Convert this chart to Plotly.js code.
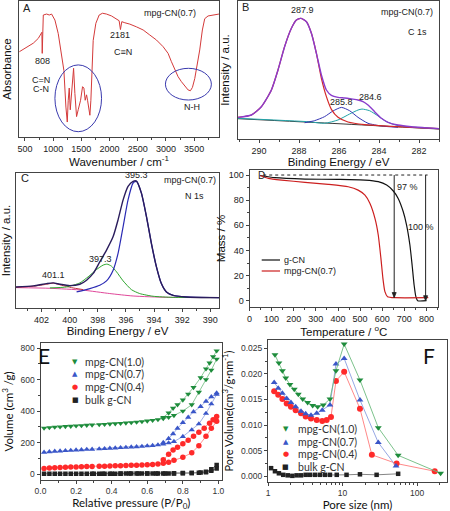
<!DOCTYPE html>
<html><head><meta charset="utf-8">
<script src="https://cdn.plot.ly/plotly-3.0.1.min.js"></script>
<style>html,body{margin:0;padding:0;background:#fff;}#chart{width:450px;height:511px;}</style>
</head><body><div id="chart"></div>
<script>
// ---------- Panel A: FTIR ----------
const aX = [400,530,648,736,777,800,806,812,825,884,931,972,1031,1090,1150,1190,1226,1250,1267,1285,1303,1326,1344,1362,1385,1415,1444,1486,1521,1545,1568,1592,1610,1633,1651,1669,1686,1710,1757,1816,1875,1946,2035,2123,2170,2193,2217,2271,2359,2477,2596,2714,2832,2950,3038,3097,3156,3215,3274,3334,3393,3434,3470,3511,3552,3599,3646,3688,3747,3836,3895,3940];
const aY = [62.7,66,69,72.5,76,77,61.5,82,89.7,90.4,89.7,90.4,86,76,61.5,49,22,11,27,36,20,32,47,50.5,32,15,20,27,37,36,27,31,27,20,16,27,52,71,83.6,89.7,91,90.4,89,87,85.5,79,84.8,84,83,81,78.7,75,71.3,66.4,61.5,55.4,49.3,44.4,40.7,37.5,34.6,34,36.5,43,51.7,64,78.7,87,89,89.7,89.7,90.4];
const aTicks = [500,1000,1500,2000,2500,3000,3500];

// ---------- Panel B: C 1s ----------
const bEnvX = [291.05,290.38,289.88,289.38,289.05,288.72,288.38,288.13,287.90,287.63,287.38,287.13,286.88,286.63,286.38,286.05,285.72,285.38,285.05,284.80,284.55,284.22,283.88,283.55,283.05,282.38,281.72,281.00];
const bEnvY = [15.7,17.4,23.4,35.5,50.0,66.9,80.2,86.2,87.4,85.0,76.6,62.1,46.4,35.5,31.6,30.2,29.7,29.0,28.3,27.1,24.6,19.8,15.0,12.1,10.1,8.9,8.2,7.5];
const bMainX = [291.05,290.38,289.88,289.38,289.05,288.72,288.38,288.13,287.90,287.63,287.38,287.13,286.88,286.63,286.38,286.05,285.55,284.72,283.38,281.00];
const bMainY = [15.7,17.4,23.4,35.5,50.0,66.9,80.2,86.2,87.4,85.0,76.6,62.1,44.0,30.7,21.5,15.7,12.3,10.4,9.2,7.5];
const bP2X = [287.72,287.22,286.72,286.30,285.88,285.47,285.05,284.55,283.88,283.05];
const bP2Y = [11.8,13.3,16.2,20.3,22.9,20.5,15.7,11.4,9.4,8.5];
const bP3X = [291.05,289.0,287.5,286.72,286.05,285.47,285.05,284.85,284.47,284.05,283.63,283.05,282.22,281.00];
const bP3Y = [15.0,13.6,12.5,11.4,13.8,18.1,21.0,21.7,20.5,16.7,12.6,9.7,8.5,7.5];
const bBaseX = [291.05,286.05,281.00];
const bBaseY = [14.7,11.1,7.2];
const bTicks = [290,288,286,284,282];

// ---------- Panel C: N 1s ----------
const cEnvX = [403.82,402.59,401.64,401.17,400.70,399.99,399.28,398.80,398.33,397.86,397.38,396.91,396.56,396.20,395.85,395.49,395.25,394.90,394.54,394.19,393.83,393.48,393.12,392.65,391.70,389.38];
const cEnvY = [15.6,16.4,18.1,18.6,17.6,16.6,17.6,20.6,25.6,34.2,42.9,52.9,65.3,80.1,90.1,93.8,94.0,85.1,67.7,47.9,30.5,18.1,11.9,9.4,8.2,7.7];
const cMainX = [399.51,398.57,397.86,397.38,396.91,396.56,396.20,395.85,395.49,395.25,394.90,394.54,394.19,393.83,393.48,393.12,392.41,389.38];
const cMainY = [11.9,14.4,16.9,20.1,28.0,40.4,60.3,80.1,92.6,93.8,85.1,67.7,47.9,30.5,18.1,11.9,8.9,7.7];
const cP2X = [401.41,400.22,399.28,398.69,398.09,397.62,397.34,397.03,396.67,396.20,395.61,395.02,394.07,392.65,389.38];
const cP2Y = [14.9,15.6,18.6,23.1,28.5,31.8,32.5,31.0,26.8,20.1,13.6,10.7,8.7,7.9,7.7];
const cP3X = [403.82,402.59,401.64,401.17,400.58,399.87,399.04];
const cP3Y = [15.4,16.1,17.6,18.4,16.9,15.1,13.6];
const cBaseX = [403.82,401.41,399.04,397.15,395.49,393.12,389.38];
const cBaseY = [15.1,14.6,13.2,10.7,8.9,7.9,7.7];
const cTicks = [402,400,398,396,394,392,390];

// ---------- Panel D: TGA ----------
const dGX = [47,115,251,401,522,582,620,650,672,695,710,725,735,744,752,760,800];
const dGY = [99.6,97.9,96.8,96.5,96.0,94.7,92.0,87.3,81.4,70.8,60.2,44.3,28.4,12.5,3.2,0,0];
const dMX = [47,85,145,251,356,446,491,522,544,567,582,594,603,612,624,657,808];
const dMY = [99.6,97.4,96.0,94.2,92.6,90.7,88.0,84.0,77.5,65.5,52.3,33.7,17.8,7.2,3.2,2.4,2.4];
const dXTicks = [0,100,200,300,400,500,600,700,800];
const dYTicks = [0,20,40,60,80,100];
const dLoss = [97, 100];          // mass-loss labels (%)
const dLossT = [654, 796];        // temperature where each loss arrow is drawn
const dLossEnd = [2.5, 0];        // residual mass at arrow tip

// ---------- Panel E: N2 isotherms ----------
const eAdsX = [0.02,0.05,0.08,0.11,0.14,0.17,0.20,0.23,0.26,0.29,0.33,0.36,0.39,0.42,0.45,0.48,0.51,0.54,0.57,0.60,0.63,0.66,0.69,0.72,0.75,0.80,0.85,0.89,0.93,0.96,0.99];
const eG_ads = [292,295,298,300,302,304,306,308,310,312,314,316,318,320,322,324,327,330,333,337,341,346,352,360,372,400,440,520,600,660,730];
const eG_desX = [0.99,0.97,0.95,0.93,0.90,0.86,0.83,0.80,0.77,0.745,0.72,0.69];
const eG_des = [782,745,705,668,612,550,508,470,440,418,388,360];
const eB_ads = [138,141,144,146,148,150,152,154,156,157,159,161,163,165,167,169,171,173,175,178,181,185,190,197,206,238,280,318,385,445,505];
const eB_desX = [0.99,0.96,0.93,0.90,0.86,0.83,0.80,0.77,0.745,0.72,0.69];
const eB_des = [515,490,462,428,395,360,327,290,255,225,200];
const eR_ads = [35,38,40,42,43,44,45,46,47,48,49,50,51,52,53,54,55,56,57,59,61,64,68,75,87,106,135,180,240,290,335];
const eR_desX = [0.99,0.97,0.95,0.92,0.89,0.86,0.83,0.80,0.77,0.745,0.72,0.69];
const eR_des = [365,345,322,290,265,240,215,192,170,153,125,90];
const eK_ads = [2,2,2,2,2,2,2,2,2,2,2,2,2,2,2,3,3,3,3,3,3,3,3,4,4,5,6,8,12,20,35];
const eK_desX = [0.99,0.96,0.93,0.90,0.85,0.80,0.75,0.70,0.65,0.60,0.55,0.50,0.45,0.40,0.35,0.30];
const eK_des = [58,30,15,10,7,6,5,4,3,3,3,3,3,2,2,2];
const eXTicks = [0,0.2,0.4,0.6,0.8,1.0];
const eYTicks = [0,200,400,600,800];

// ---------- Panel F: pore size distribution ----------
const fGX = [1.24,1.40,1.56,1.73,1.97,2.25,2.55,2.92,3.40,3.97,4.63,5.51,6.77,8.15,10.5,17.1,30.1,55.6,206];
const fGY = [0.0237,0.0221,0.0206,0.0192,0.0179,0.0170,0.0160,0.0151,0.0144,0.0138,0.0136,0.0139,0.0151,0.0206,0.0258,0.0188,0.0095,0.0041,0.0006];
const fBX = [1.21,1.37,1.56,1.78,2.03,2.35,2.77,3.20,3.77,4.50,5.34,6.77,8.15,10.5,17.1,30.1,52.1];
const fBY = [0.0183,0.0172,0.0162,0.0152,0.0144,0.0136,0.0127,0.0122,0.0119,0.0123,0.0129,0.0139,0.0219,0.0230,0.0149,0.0066,0.0020];
const fRX = [1.21,1.37,1.56,1.78,2.03,2.35,2.77,3.20,3.77,4.50,5.34,6.12,6.99,8.15,10.5,17.1,24.7,53,172];
const fRY = [0.0166,0.0159,0.0151,0.0142,0.0136,0.0129,0.0123,0.0117,0.0113,0.0110,0.0108,0.0110,0.0116,0.0186,0.0204,0.0132,0.0042,0.0025,0.0010];
const fKX = [1.10,1.24,1.40,1.60,1.84,2.12,2.42,2.77,3.20,3.66,4.27,4.97,5.81,6.77,8.35,11.3,17.1,28.6,55.6];
const fKY = [0.0016,0.0010,0.0006,0.0003,0.0002,0.0001,0.0002,0.0002,0.0003,0.0003,0.0003,0.0003,0.0003,0.0003,0.0003,0.0003,0.0004,0.0003,0.0005];
const fXTicks = [1,10,100];
const fYTicks = [0,0.005,0.010,0.015,0.020,0.025];

const seriesNames = ['mpg-CN(1.0)','mpg-CN(0.7)','mpg-CN(0.4)','bulk g-CN'];
const seriesColors = ['#1e8c3c','#3a56c8','#ff2a2a','#222222'];
const seriesLine = ['#6dbb7e','#8a9de0','#ff7a7a','#777777'];
const seriesSymbols = ['triangle-down','triangle-up','circle','square'];
const seriesGlyphs = ['\u25BC','\u25B2','\u25CF','\u25A0'];

// ---------- traces ----------
const T = [];
function line(xa, ya, x, y, color, w){ T.push({type:'scatter', mode:'lines', x:x, y:y, xaxis:xa, yaxis:ya, line:{color:color, width:w||1, shape:'spline', smoothing:0.6}, hoverinfo:'skip', showlegend:false}); }
// A
T.push({type:'scatter', mode:'lines', x:aX, y:aY, xaxis:'x', yaxis:'y', line:{color:'#d43a3a', width:1}, showlegend:false});
// B
line('x2','y2', bBaseX, bBaseY, '#3a3a3a', 1);
line('x2','y2', bP3X, bP3Y, '#22a3a8', 1);
line('x2','y2', bP2X, bP2Y, '#3434b4', 1);
line('x2','y2', bMainX, bMainY, '#d42828', 1.2);
line('x2','y2', bEnvX, bEnvY, '#8a3ccc', 1.4);
// C
line('x3','y3', cBaseX, cBaseY, '#e0489a', 1);
line('x3','y3', cP3X, cP3Y, '#c03040', 1);
line('x3','y3', cP2X, cP2Y, '#2ea62e', 1);
line('x3','y3', cMainX, cMainY, '#2a2ab4', 1.2);
line('x3','y3', cEnvX, cEnvY, '#2a1c5c', 1.4);
// D
T.push({type:'scatter', mode:'lines', x:dGX, y:dGY, xaxis:'x4', yaxis:'y4', line:{color:'#111', width:1.2, shape:'spline', smoothing:0.5}, showlegend:false});
T.push({type:'scatter', mode:'lines', x:dMX, y:dMY, xaxis:'x4', yaxis:'y4', line:{color:'#cc1f1f', width:1.2, shape:'spline', smoothing:0.5}, showlegend:false});
// E
const eAds = [eG_ads, eB_ads, eR_ads, eK_ads];
const eDesX = [eG_desX, eB_desX, eR_desX, eK_desX];
const eDes = [eG_des, eB_des, eR_des, eK_des];
for (let i = 3; i >= 0; i--) {
  T.push({type:'scatter', mode:'lines', x:eAdsX, y:eAds[i], xaxis:'x5', yaxis:'y5', line:{color:seriesLine[i], width:0.8}, showlegend:false});
  T.push({type:'scatter', mode:'lines', x:eDesX[i], y:eDes[i], xaxis:'x5', yaxis:'y5', line:{color:seriesLine[i], width:0.8}, showlegend:false});
  T.push({type:'scatter', mode:'markers', name:seriesNames[i], x:eAdsX.concat(eDesX[i]), y:eAds[i].concat(eDes[i]), xaxis:'x5', yaxis:'y5', marker:{symbol:seriesSymbols[i], size:i===3?4.5:5.5, color:seriesColors[i]}, showlegend:false});
}
// F
const fX = [fGX, fBX, fRX, fKX];
const fY = [fGY, fBY, fRY, fKY];
for (let i = 3; i >= 0; i--) {
  T.push({type:'scatter', mode:'lines+markers', name:seriesNames[i], x:fX[i], y:fY[i], xaxis:'x6', yaxis:'y6', line:{color:seriesLine[i], width:0.9}, marker:{symbol:seriesSymbols[i], size:i===3?4.5:6, color:seriesColors[i]}, showlegend:false});
}

// ---------- axes ----------
const F1 = 'Liberation Sans, Arial, sans-serif';
const F2 = 'Lato, Liberation Sans, sans-serif';
function ax(o){
  return Object.assign({showline:true, linecolor:'#444', linewidth:1, mirror:true, ticks:'outside', ticklen:3, tickwidth:1, tickcolor:'#444',
    tickfont:{family:F1, size:9, color:'#222'}, showgrid:false, zeroline:false, automargin:false, fixedrange:true}, o);
}
function ttl(text, standoff, fam, size){ return {text:text, standoff:standoff, font:{family:fam||F1, size:size||11.5, color:'#111'}}; }
const P = (px) => px/450, Q = (py) => 1 - py/511;

const shapes = [
  {type:'circle', xref:'x', yref:'y', x0:1031, x1:1858, y0:3.9, y1:53, line:{color:'#3a3aae', width:1}},
  {type:'circle', xref:'x', yref:'y', x0:2991, x1:3806, y0:27.2, y1:50.5, line:{color:'#3a3aae', width:1}},
  {type:'line', xref:'x4', yref:'y4', x0:62, x1:805, y0:100, y1:100, line:{color:'#222', width:1, dash:'dot'}},
  {type:'line', xref:'paper', yref:'paper', x0:P(261.7), x1:P(280), y0:Q(260), y1:Q(260), line:{color:'#111', width:1.2}},
  {type:'line', xref:'paper', yref:'paper', x0:P(261.7), x1:P(280), y0:Q(271), y1:Q(271), line:{color:'#cc1f1f', width:1.2}}
];
// mass-loss arrows in panel D: shaft plus small head, positioned from the data arrays
for (let k = 0; k < dLossT.length; k++) {
  shapes.push({type:'line', xref:'x4', yref:'y4', x0:dLossT[k], x1:dLossT[k], y0:100, y1:dLossEnd[k], line:{color:'#222', width:1}});
  shapes.push({type:'path', xref:'x4', yref:'y4', path:'M'+(dLossT[k]-9)+','+(dLossEnd[k]+4)+' L'+dLossT[k]+','+dLossEnd[k]+' L'+(dLossT[k]+9)+','+(dLossEnd[k]+4)+' Z', fillcolor:'#222', line:{color:'#222', width:0.8}});
}

const layout = {
  width:450, height:511, margin:{l:0,r:0,t:0,b:0}, showlegend:false,
  paper_bgcolor:'#fff', plot_bgcolor:'#fff', font:{family:F1, size:9, color:'#222'},
  xaxis: ax({domain:[P(19),P(219)], anchor:'y', range:[394,3941], tickvals:aTicks, minor:{ticks:'outside', ticklen:2, dtick:250, tickcolor:'#444'}, title:ttl('Wavenumber / cm<sup>-1</sup>', 2)}),
  yaxis: ax({domain:[Q(137),Q(1)], anchor:'x', range:[0,100], ticks:'', showticklabels:false, title:ttl('Absorbance', 3)}),
  xaxis2: ax({domain:[P(238),P(439)], anchor:'y2', range:[291.05,281.0], tickvals:bTicks, minor:{ticks:'outside', ticklen:2, dtick:1, tickcolor:'#444'}, title:ttl('Binding Energy / eV', 2)}),
  yaxis2: ax({domain:[Q(139),Q(1)], anchor:'x2', range:[0,100], ticks:'', showticklabels:false, title:ttl('Intensity / a.u.', 4)}),
  xaxis3: ax({domain:[P(16),P(219)], anchor:'y3', range:[403.82,389.38], tickvals:cTicks, minor:{ticks:'outside', ticklen:2, dtick:1, tickcolor:'#444'}, title:ttl('Binding Energy / eV', 2)}),
  yaxis3: ax({domain:[Q(308),Q(173)], anchor:'x3', range:[0,100], ticks:'', showticklabels:false, title:ttl('Intensity / a.u.', 2)}),
  xaxis4: ax({domain:[P(249.5),P(438)], anchor:'y4', range:[0,852], tickvals:dXTicks, minor:{ticks:'outside', ticklen:2, dtick:50, tickcolor:'#444'}, title:ttl('Temperature / <sup>o</sup>C', 2)}),
  yaxis4: ax({domain:[Q(307),Q(170)], anchor:'x4', range:[-5,104], tickvals:dYTicks, minor:{ticks:'outside', ticklen:2, dtick:10, tickcolor:'#444'}, title:ttl('Mass / %', 0)}),
  xaxis5: ax({domain:[P(40.5),P(222)], anchor:'y5', range:[0,1.02], tickvals:eXTicks, tickformat:'.1f', tickfont:{family:F1, size:8.5, color:'#333'}, minor:{ticks:'outside', ticklen:2, dtick:0.1, tickcolor:'#444'}, title:ttl('Relative pressure (P/P<sub>0</sub>)', 6, F2, 11.5)}),
  yaxis5: ax({domain:[Q(480),Q(343)], anchor:'x5', range:[-38,832], tickvals:eYTicks, tickfont:{family:F1, size:8.5, color:'#333'}, minor:{ticks:'outside', ticklen:2, dtick:100, tickcolor:'#444'}, title:ttl('Volume (cm<sup>3</sup> /g)', 13, F2, 11.5)}),
  xaxis6: ax({domain:[P(268),P(447)], anchor:'y6', type:'log', range:[0,2.4], tickvals:fXTicks, ticktext:['1','10','100'], tickfont:{family:F1, size:8.5, color:'#333'}, minor:{ticks:'outside', ticklen:2, tickvals:[2,3,4,5,6,7,8,9,20,30,40,50,60,70,80,90,200], tickcolor:'#444'}, title:ttl('Pore size (nm)', 6, F2, 11.5)}),
  yaxis6: ax({domain:[Q(482),Q(340)], anchor:'x6', range:[-0.0011,0.0266], tickvals:fYTicks, tickformat:'.3f', tickfont:{family:F1, size:8.5, color:'#333'}, minor:{ticks:'outside', ticklen:2, dtick:0.0025, tickcolor:'#444'}, title:ttl('Pore Volume(cm<sup>3</sup>/g\u00B7nm<sup>-1</sup>)', 5, F2, 11)}),
  shapes: shapes,
  annotations: []
};

const A = layout.annotations;
function lab(xr, yr, x, y, text, size, extra){ A.push(Object.assign({xref:xr, yref:yr, x:x, y:y, text:text, showarrow:false, xanchor:'center', yanchor:'middle', font:{family:F1, size:size||9, color:'#222'}}, extra||{})); }
// A labels
lab('x','y', 530, 95, 'A', 11);
lab('x','y', 807, 56, '808');
lab('x','y', 790, 42, 'C=N');
lab('x','y', 785, 35, 'C-N');
lab('x','y', 2194, 75, '2181');
lab('x','y', 2241, 62.7, 'C\u2261N');
lab('x','y', 3469, 21.8, 'N-H');
lab('x','y', 3080, 91, 'mpg-CN(0.7)');
// B labels
lab('x2','y2', 290.68, 95.4, 'B', 11);
lab('x2','y2', 287.83, 93.5, '287.9');
lab('x2','y2', 285.88, 27, '285.8');
lab('x2','y2', 284.43, 30.7, '284.6');
lab('x2','y2', 282.58, 92.3, 'mpg-CN(0.7)');
lab('x2','y2', 282.08, 77.8, 'C 1s');
// C labels
lab('x3','y3', 403.18, 96.3, 'C', 11);
lab('x3','y3', 395.25, 98.8, '395.3');
lab('x3','y3', 397.79, 36.2, '397.3');
lab('x3','y3', 401.17, 24.3, '401.1');
lab('x3','y3', 391.47, 95, 'mpg-CN(0.7)');
lab('x3','y3', 391.11, 82.6, 'N 1s');
// D labels
lab('x4','y4', 52, 100, 'D', 10);
lab('x4','y4', 657, 90.7, dLoss[0] + ' %', 9, {xanchor:'left'});
lab('x4','y4', 773, 58.9, dLoss[1] + ' %');
lab('paper','paper', P(281.7), Q(260), 'g-CN', 9, {xanchor:'left'});
lab('paper','paper', P(281.7), Q(271), 'mpg-CN(0.7)', 9, {xanchor:'left'});
// E labels & legend
lab('x5','y5', 0.022, 754, 'E', 21, {font:{family:F2, size:21, color:'#111'}});
const eRows = [361.7, 374.3, 387, 399.7];
const fRows = [429.3, 441.7, 454, 466.7];
for (let i = 0; i < 4; i++) {
  lab('paper','paper', P(75), Q(eRows[i]), seriesGlyphs[i], 7, {font:{family:'DejaVu Sans', size:7, color:seriesColors[i]}});
  lab('paper','paper', P(83.3), Q(eRows[i]), seriesNames[i], 10.5, {xanchor:'left', font:{family:F2, size:10.5, color:'#333'}});
  lab('paper','paper', P(285.7), Q(fRows[i]), seriesGlyphs[i], 7, {font:{family:'DejaVu Sans', size:7, color:seriesColors[i]}});
  lab('paper','paper', P(295.7), Q(fRows[i]), seriesNames[i], 10.5, {xanchor:'left', font:{family:F2, size:10.5, color:'#333'}});
}
lab('x6','y6', 2.165, 0.02358, 'F', 21, {font:{family:F2, size:21, color:'#111'}});

Plotly.newPlot('chart', T, layout, {staticPlot:true});
</script></body></html>
